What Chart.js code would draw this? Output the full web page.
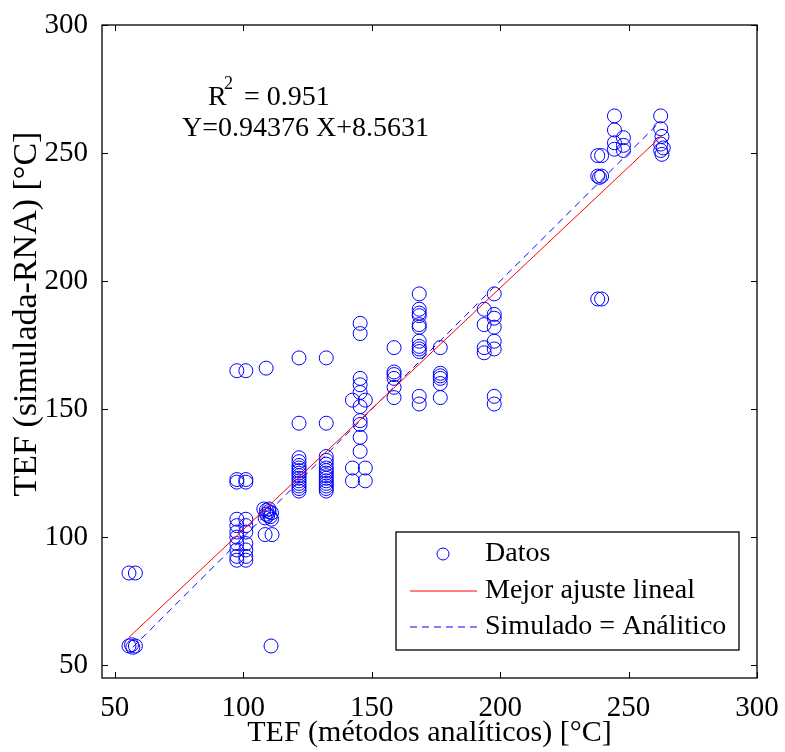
<!DOCTYPE html>
<html><head><meta charset="utf-8">
<script src="https://cdn.jsdelivr.net/npm/chart.js@4.4.1/dist/chart.umd.min.js"></script>
<style>html,body{margin:0;padding:0;background:#fff}#wrap{width:785px;height:752px}</style>
</head><body><div id="wrap"><canvas id="c" width="785" height="752"></canvas></div>
<script>
const xTicks = [50, 100, 150, 200, 250, 300];
const yTicks = [50, 100, 150, 200, 250, 300];
const datosX = [
  55.5, 58, 55.5, 56.5, 58, 57,
  97.5, 101, 97.5, 101, 97.5, 101,
  97.5, 97.5, 97.5, 97.5, 97.5, 97.5, 97.5, 97.5,
  101, 101, 101, 101, 101, 101, 101,
  108.9, 108, 109, 110, 111, 109.5, 110.5, 108.5, 111, 110, 109, 108.5, 111.2, 110.8,
  121.7, 121.7, 121.7, 121.7, 121.7, 121.7, 121.7, 121.7, 121.7, 121.7, 121.7, 121.7, 121.7, 121.7, 121.7,
  132.3, 132.3, 132.3, 132.3, 132.3, 132.3, 132.3, 132.3, 132.3, 132.3, 132.3, 132.3, 132.3, 132.3, 132.3,
  145.5, 145.5, 145.5, 145.5, 145.5, 145.5, 145.5, 145.5, 145.5, 145.5,
  142.5, 142.5, 142.5, 147.5, 147.5, 147.5,
  158.7, 158.7, 158.7, 158.7, 158.7, 158.7,
  168.5, 168.5, 168.5, 168.5, 168.5, 168.5, 168.5, 168.5, 168.5, 168.5, 168.5, 168.5,
  176.7, 176.7, 176.7, 176.7, 176.7, 176.7,
  193.8, 193.8, 193.8, 193.8,
  197.7, 197.7, 197.7, 197.7, 197.7, 197.7, 197.7, 197.7,
  238, 239.5, 238, 238.7, 239.5, 238, 239.5,
  244.5, 244.5, 244.5, 244.5,
  248, 248, 248,
  262.5, 262.5, 263, 262.5, 263.5, 262.5, 263
];
const datosY = [
  86, 86, 57.5, 58, 57.5, 57,
  165, 165, 122.5, 122.5, 121.5, 121.5,
  107, 104.5, 102, 100, 97.5, 95, 92.5, 91,
  107, 104.5, 102, 97.5, 95, 92.5, 91,
  166, 111, 110.5, 110, 109.5, 108.5, 108, 107.5, 107, 111, 109, 101, 101, 57.5,
  170, 144.5, 131, 129.5, 128, 127, 126, 125, 124, 123, 122, 121, 120, 119, 118,
  170, 144.5, 131.5, 130, 128.5, 127, 126, 125, 124, 123, 122, 121, 120, 119, 118,
  183.5, 179.5, 162, 159.5, 156.5, 151, 145.5, 144, 139, 133.5,
  153.5, 127, 122, 153.5, 127, 122,
  174, 164.5, 163.5, 162, 158.5, 154.5,
  195, 189, 187.5, 186.5, 183, 182, 176.5, 174.5, 173.5, 172.5, 155, 152,
  174, 164, 163, 162, 160, 154.5,
  189, 183, 174, 172,
  195, 187, 185.5, 182, 176.5, 173.5, 155, 152,
  249, 249, 241, 240.5, 241, 193, 193,
  264.5, 259, 254, 251.5,
  256, 253, 251,
  264.5, 259.5, 256.5, 253.5, 252, 251, 249.5
];
const fitX = [55.5, 263];
const fitY = [60.9, 256.8];
const idealX = [57, 262];
const idealY = [57, 262];
const legendLabels = ['Datos', 'Mejor ajuste lineal', 'Simulado = Análitico'];
const xTitle = 'TEF (métodos analíticos) [°C]';
const yTitle = 'TEF (simulada-RNA) [°C]';
const r2Text = '0.951';
const eqText = 'Y=0.94376 X+8.5631';

const FONT = '"Liberation Serif", "Times New Roman", serif';
const BLUE = '#0000ff', RED = '#ff0000';

const zip = (a, b) => a.map((v, i) => ({x: v, y: b[i]}));

const boxPlugin = {
  id: 'boxPlugin',
  afterDraw(chart) {
    const ctx = chart.ctx, a = chart.chartArea;
    const xs = chart.scales.x, ys = chart.scales.y;
    ctx.save();
    ctx.strokeStyle = '#000';
    ctx.lineWidth = 1.3;
    ctx.strokeRect(a.left, a.top, a.right - a.left, a.bottom - a.top);
    const tl = 6;
    ctx.beginPath();
    xTicks.forEach(v => {
      const px = Math.round(xs.getPixelForValue(v)) + 0.5;
      ctx.moveTo(px, a.bottom); ctx.lineTo(px, a.bottom - tl);
      ctx.moveTo(px, a.top); ctx.lineTo(px, a.top + tl);
    });
    yTicks.forEach(v => {
      const py = Math.round(ys.getPixelForValue(v)) + 0.5;
      ctx.moveTo(a.left, py); ctx.lineTo(a.left + tl, py);
      ctx.moveTo(a.right, py); ctx.lineTo(a.right - tl, py);
    });
    ctx.lineWidth = 1;
    ctx.stroke();

    // annotation text
    ctx.fillStyle = '#000';
    ctx.textBaseline = 'alphabetic';
    ctx.textAlign = 'left';
    ctx.font = '28px ' + FONT;
    ctx.fillText('R', 208, 105);
    ctx.font = '18px ' + FONT;
    ctx.fillText('2', 224, 89);
    ctx.font = '28px ' + FONT;
    ctx.fillText('= ' + r2Text, 244, 105);
    ctx.fillText(eqText, 182, 136);

    // y title
    ctx.save();
    ctx.translate(36, 314);
    ctx.rotate(-Math.PI / 2);
    ctx.textAlign = 'center';
    ctx.textBaseline = 'alphabetic';
    ctx.font = '34px ' + FONT;
    ctx.fillText(yTitle, 0, 0);
    ctx.restore();

    // legend
    const lx = a.right - 18 - 343, ly = a.bottom - 28 - 118, lw = 343, lh = 118;
    ctx.fillStyle = '#fff';
    ctx.fillRect(lx, ly, lw, lh);
    ctx.strokeStyle = '#000';
    ctx.lineWidth = 1.3;
    ctx.strokeRect(lx, ly, lw, lh);
    const rows = [ly + 22, ly + 59, ly + 95];
    ctx.lineWidth = 1;
    ctx.strokeStyle = BLUE;
    ctx.beginPath(); ctx.arc(lx + 47, rows[0], 6, 0, Math.PI * 2); ctx.stroke();
    ctx.strokeStyle = RED;
    ctx.beginPath(); ctx.moveTo(lx + 14, rows[1]); ctx.lineTo(lx + 81, rows[1]); ctx.stroke();
    ctx.strokeStyle = BLUE;
    ctx.setLineDash([7, 5]);
    ctx.beginPath(); ctx.moveTo(lx + 14, rows[2]); ctx.lineTo(lx + 81, rows[2]); ctx.stroke();
    ctx.setLineDash([]);
    ctx.fillStyle = '#000';
    ctx.font = '28px ' + FONT;
    ctx.textAlign = 'left';
    ctx.textBaseline = 'middle';
    legendLabels.forEach((t, i) => ctx.fillText(t, lx + 89, rows[i]));
    ctx.restore();
  }
};

new Chart(document.getElementById('c'), {
  type: 'scatter',
  data: {
    datasets: [
      {label: legendLabels[0], data: zip(datosX, datosY), showLine: false,
       pointStyle: 'circle', pointRadius: 7, pointBorderColor: BLUE, pointBackgroundColor: 'rgba(0,0,0,0)',
       pointBorderWidth: 1, order: 3},
      {label: legendLabels[1], data: zip(fitX, fitY), showLine: true, borderColor: RED, borderWidth: 1,
       pointRadius: 0, order: 1},
      {label: legendLabels[2], data: zip(idealX, idealY), showLine: true, borderColor: BLUE, borderWidth: 1,
       borderDash: [7, 5], pointRadius: 0, order: 2}
    ]
  },
  options: {
    responsive: false, animation: false, devicePixelRatio: 1,
    layout: {padding: {left: 0, right: 28, top: 25, bottom: 0}},
    plugins: {legend: {display: false}, tooltip: {enabled: false}},
    scales: {
      x: {
        type: 'linear', min: 45, max: 300,
        afterBuildTicks: s => { s.ticks = xTicks.map(v => ({value: v})); },
        afterFit: s => { s.height = 74; },
        grid: {display: false}, border: {display: false},
        ticks: {color: '#000', font: {family: FONT, size: 29}, padding: 5, maxRotation: 0},
        title: {display: true, text: xTitle, color: '#000', font: {family: FONT, size: 30}, padding: {top: 0, bottom: 1}}
      },
      y: {
        type: 'linear', min: 45, max: 300,
        afterBuildTicks: s => { s.ticks = yTicks.map(v => ({value: v})); },
        afterFit: s => { s.width = 102; },
        grid: {display: false}, border: {display: false},
        ticks: {color: '#000', font: {family: FONT, size: 29}, padding: 6}
      }
    }
  },
  plugins: [boxPlugin]
});
</script>
</body></html>
